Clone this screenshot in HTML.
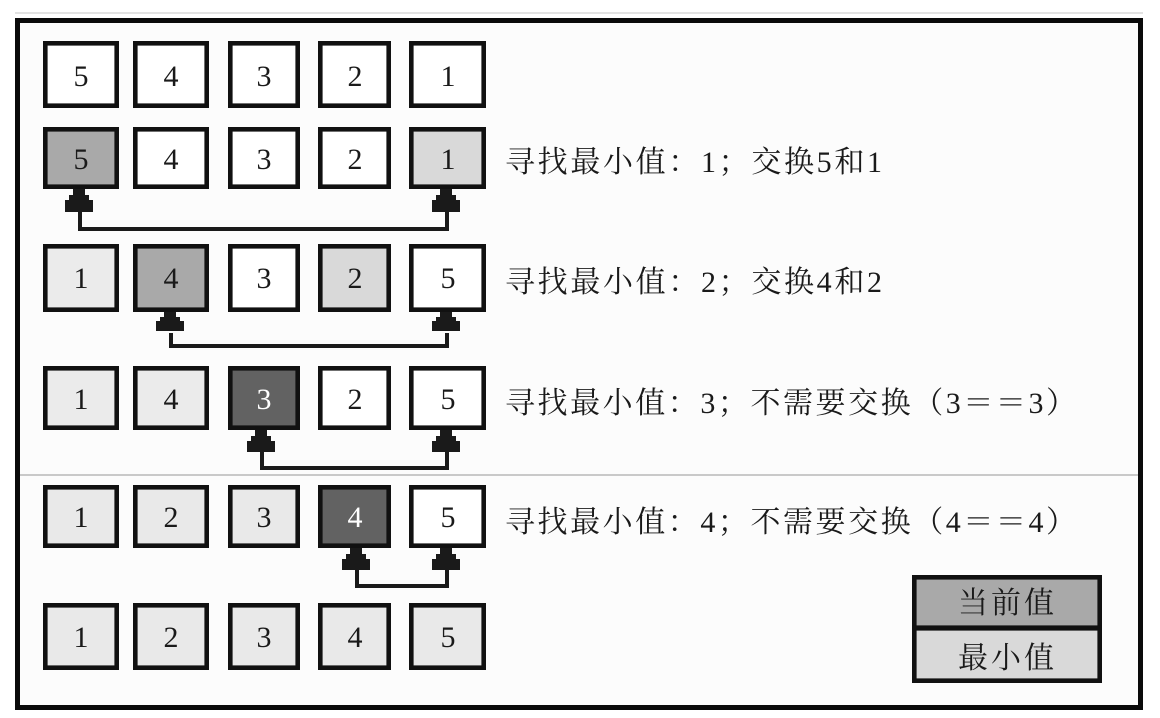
<!DOCTYPE html>
<html><head><meta charset="utf-8"><style>
html,body{margin:0;padding:0;background:#fff;}
svg{display:block;}
text{font-family:"Liberation Serif","Noto Serif CJK SC","Noto Sans CJK SC",serif;fill:#1a1a1a;}
.dg text{font-family:"Liberation Serif",serif;}
</style></head><body>
<svg width="1160" height="718" viewBox="0 0 1160 718" xmlns="http://www.w3.org/2000/svg">
<rect x="0" y="0" width="1160" height="718" fill="#fff"/>
<line x1="15" y1="13" x2="1143" y2="13" stroke="#e2e2e2" stroke-width="2"/>
<rect x="17.5" y="20.5" width="1123" height="687" fill="#fcfcfc" stroke="#0a0a0a" stroke-width="5"/>
<line x1="20" y1="475" x2="1138" y2="475" stroke="#aaa" stroke-width="1.2"/>

<g stroke="#111" stroke-width="4.6">
<!-- row 1 -->
<rect x="45.3" y="43.3" width="71.4" height="62.4" fill="#fff"/>
<rect x="135.3" y="43.3" width="71.4" height="62.4" fill="#fff"/>
<rect x="230.3" y="43.3" width="67.4" height="62.4" fill="#fff"/>
<rect x="320.3" y="43.3" width="68.4" height="62.4" fill="#fff"/>
<rect x="411.3" y="43.3" width="72.4" height="62.4" fill="#fff"/>
<!-- row 2 -->
<rect x="45.3" y="129.3" width="71.4" height="57.4" fill="#a9a9a9"/>
<rect x="135.3" y="129.3" width="71.4" height="57.4" fill="#fff"/>
<rect x="230.3" y="129.3" width="67.4" height="57.4" fill="#fff"/>
<rect x="320.3" y="129.3" width="68.4" height="57.4" fill="#fff"/>
<rect x="411.3" y="129.3" width="72.4" height="57.4" fill="#d9d9d9"/>
<!-- row 3 -->
<rect x="45.3" y="246.3" width="71.4" height="63.4" fill="#ebebeb"/>
<rect x="135.3" y="246.3" width="71.4" height="63.4" fill="#a9a9a9"/>
<rect x="230.3" y="246.3" width="67.4" height="63.4" fill="#fff"/>
<rect x="320.3" y="246.3" width="68.4" height="63.4" fill="#d9d9d9"/>
<rect x="411.3" y="246.3" width="72.4" height="63.4" fill="#fff"/>
<!-- row 4 -->
<rect x="45.3" y="368.3" width="71.4" height="59.4" fill="#ebebeb"/>
<rect x="135.3" y="368.3" width="71.4" height="59.4" fill="#ebebeb"/>
<rect x="230.3" y="368.3" width="67.4" height="59.4" fill="#626262"/>
<rect x="320.3" y="368.3" width="68.4" height="59.4" fill="#fff"/>
<rect x="411.3" y="368.3" width="72.4" height="59.4" fill="#fff"/>
<!-- row 5 -->
<rect x="45.3" y="487.3" width="71.4" height="58.4" fill="#e9e9e9"/>
<rect x="135.3" y="487.3" width="71.4" height="58.4" fill="#e9e9e9"/>
<rect x="230.3" y="487.3" width="67.4" height="58.4" fill="#e9e9e9"/>
<rect x="320.3" y="487.3" width="68.4" height="58.4" fill="#626262"/>
<rect x="411.3" y="487.3" width="72.4" height="58.4" fill="#fff"/>
<!-- row 6 -->
<rect x="45.3" y="605.3" width="71.4" height="62.4" fill="#e9e9e9"/>
<rect x="135.3" y="605.3" width="71.4" height="62.4" fill="#e9e9e9"/>
<rect x="230.3" y="605.3" width="67.4" height="62.4" fill="#e9e9e9"/>
<rect x="320.3" y="605.3" width="68.4" height="62.4" fill="#e9e9e9"/>
<rect x="411.3" y="605.3" width="72.4" height="62.4" fill="#e9e9e9"/>
</g>

<!-- connectors -->
<g fill="none" stroke="#1a1a1a" stroke-width="4">
<path d="M80 210 V229 H447 V210"/>
<path d="M171 333 V346 H447 V333"/>
<path d="M262 451 V468 H447 V451"/>
<path d="M357 569 V586 H447 V569"/>
</g>
<g fill="#1a1a1a">
<g transform="translate(80,189)"><rect x="-7" y="0" width="12" height="8"/><rect x="-11" y="6" width="20" height="6"/><rect x="-15" y="11" width="28" height="12"/></g>
<g transform="translate(447,189)"><rect x="-7" y="0" width="12" height="8"/><rect x="-11" y="6" width="20" height="6"/><rect x="-15" y="11" width="28" height="12"/></g>
<g transform="translate(171,312)"><rect x="-7" y="0" width="12" height="7"/><rect x="-11" y="5" width="20" height="5"/><rect x="-15" y="9" width="28" height="10"/></g>
<g transform="translate(447,312)"><rect x="-7" y="0" width="12" height="7"/><rect x="-11" y="5" width="20" height="5"/><rect x="-15" y="9" width="28" height="10"/></g>
<g transform="translate(262,430)"><rect x="-7" y="0" width="12" height="8"/><rect x="-11" y="6" width="20" height="6"/><rect x="-15" y="11" width="28" height="11"/></g>
<g transform="translate(447,430)"><rect x="-7" y="0" width="12" height="8"/><rect x="-11" y="6" width="20" height="6"/><rect x="-15" y="11" width="28" height="11"/></g>
<g transform="translate(357,548)"><rect x="-7" y="0" width="12" height="8"/><rect x="-11" y="6" width="20" height="6"/><rect x="-15" y="11" width="28" height="11"/></g>
<g transform="translate(447,548)"><rect x="-7" y="0" width="12" height="8"/><rect x="-11" y="6" width="20" height="6"/><rect x="-15" y="11" width="28" height="11"/></g>
</g>

<!-- digits -->
<g class="dg" font-size="30" text-anchor="middle">
<text x="81" y="86">5</text><text x="171" y="86">4</text><text x="264" y="86">3</text><text x="355" y="86">2</text><text x="448" y="86">1</text>
<text x="81" y="169">5</text><text x="171" y="169">4</text><text x="264" y="169">3</text><text x="355" y="169">2</text><text x="448" y="169">1</text>
<text x="81" y="288">1</text><text x="171" y="288">4</text><text x="264" y="288">3</text><text x="355" y="288">2</text><text x="448" y="288">5</text>
<text x="81" y="409">1</text><text x="171" y="409">4</text><text x="264" y="409" style="fill:#fff">3</text><text x="355" y="409">2</text><text x="448" y="409">5</text>
<text x="81" y="527">1</text><text x="171" y="527">2</text><text x="264" y="527">3</text><text x="355" y="527" style="fill:#fff">4</text><text x="448" y="527">5</text>
<text x="81" y="647">1</text><text x="171" y="647">2</text><text x="264" y="647">3</text><text x="355" y="647">4</text><text x="448" y="647">5</text>
</g>

<!-- descriptions -->
<g font-size="30">
<text x="505" y="172" textLength="377" lengthAdjust="spacing">寻找最小值：1；交换5和1</text>
<text x="505" y="292" textLength="377" lengthAdjust="spacing">寻找最小值：2；交换4和2</text>
<text x="505" y="413" textLength="571" lengthAdjust="spacing">寻找最小值：3；不需要交换（3＝＝3）</text>
<text x="505" y="532" textLength="571" lengthAdjust="spacing">寻找最小值：4；不需要交换（4＝＝4）</text>
</g>

<!-- legend -->
<g stroke="#111" stroke-width="4.6">
<rect x="914.3" y="577.3" width="185.4" height="50.4" fill="#a9a9a9"/>
<rect x="914.3" y="628.3" width="185.4" height="52.4" fill="#d9d9d9"/>
</g>
<g font-size="30">
<text x="958" y="613" textLength="96" lengthAdjust="spacing">当前值</text>
<text x="958" y="668" textLength="96" lengthAdjust="spacing">最小值</text>
</g>
</svg>
</body></html>
